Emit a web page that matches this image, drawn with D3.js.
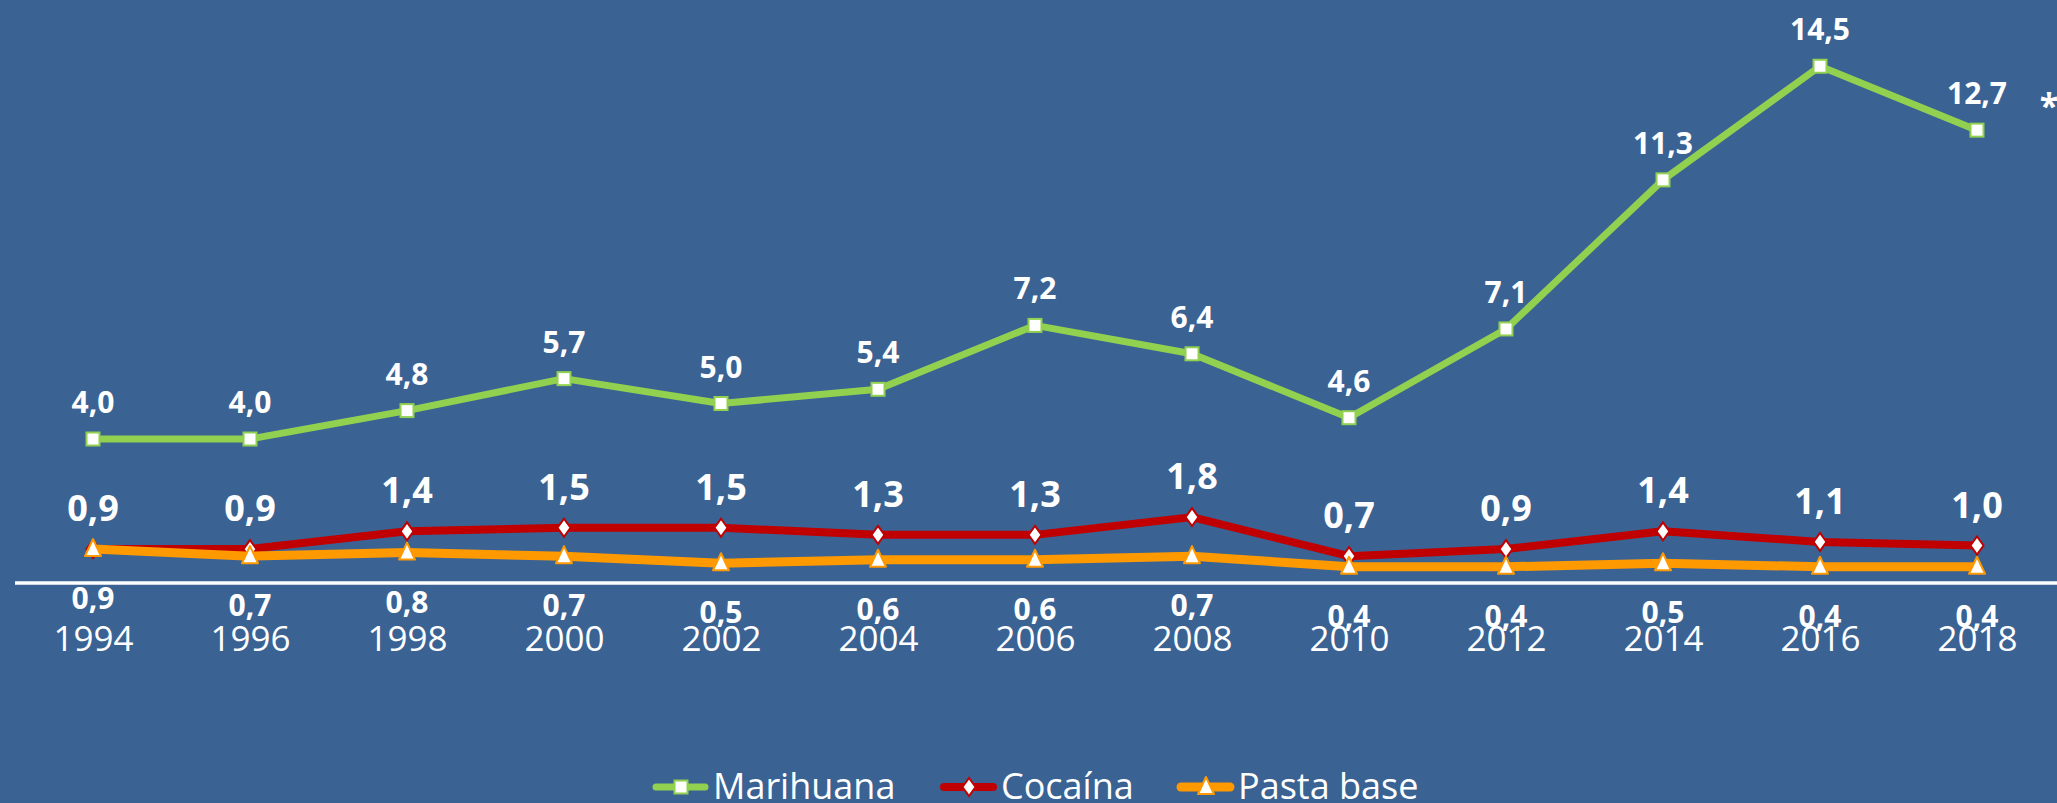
<!DOCTYPE html>
<html>
<head>
<meta charset="utf-8">
<script src="https://cdn.jsdelivr.net/npm/d3@7"></script>
<style>
  html, body { margin: 0; padding: 0; background: #3A6394; }
  svg { display: block; }
</style>
</head>
<body>
<svg id="chart" width="2057" height="803"></svg>
<script>
const years = ["1994","1996","1998","2000","2002","2004","2006","2008","2010","2012","2014","2016","2018"];
const marihuana = [4.0, 4.0, 4.8, 5.7, 5.0, 5.4, 7.2, 6.4, 4.6, 7.1, 11.3, 14.5, 12.7];
const cocaina   = [0.9, 0.9, 1.4, 1.5, 1.5, 1.3, 1.3, 1.8, 0.7, 0.9, 1.4, 1.1, 1.0];
const pastaBase = [0.9, 0.7, 0.8, 0.7, 0.5, 0.6, 0.6, 0.7, 0.4, 0.4, 0.5, 0.4, 0.4];
const seriesNames = ["Marihuana", "Cocaína", "Pasta base"];

const W = 2057, H = 803;
const svg = d3.select("#chart");
const font = "'Open Sans', 'Noto Sans', sans-serif";

const x = d3.scalePoint().domain(years).range([93, 1977]);
const y = d3.scaleLinear().domain([0, 14.5]).range([581, 581 - 14.5 * 35.5]);

const fmt = v => d3.format(".1f")(v).replace(".", ",");

const series = [
  { name: seriesNames[0], values: marihuana, color: "#92D050", width: 7, marker: "square", labelSize: 30, labelDy: -26 },
  { name: seriesNames[1], values: cocaina, color: "#C00000", width: 8, marker: "diamond", labelSize: 36, labelDy: -28 },
  { name: seriesNames[2], values: pastaBase, color: "#FF9900", width: 9, marker: "triangle", labelSize: 30, labelDy: 60 }
];

function drawMarker(g, type, cx, cy, color) {
  if (type === "square") {
    g.append("rect").attr("x", cx - 6.5).attr("y", cy - 6.5).attr("width", 13).attr("height", 13)
      .attr("fill", "#fff").attr("stroke", color).attr("stroke-width", 2);
  } else if (type === "diamond") {
    g.append("path").attr("d", `M${cx},${cy-9}L${cx+6.5},${cy}L${cx},${cy+9}L${cx-6.5},${cy}Z`)
      .attr("fill", "#fff").attr("stroke", color).attr("stroke-width", 2);
  } else {
    g.append("path").attr("d", `M${cx},${cy-10}L${cx+8},${cy+7}L${cx-8},${cy+7}Z`)
      .attr("fill", "#fff").attr("stroke", color).attr("stroke-width", 2).attr("stroke-linejoin", "round");
  }
}

// axis line (y = 0)
svg.append("line")
  .attr("x1", 15).attr("x2", W).attr("y1", y(0) + 2).attr("y2", y(0) + 2)
  .attr("stroke", "#fff").attr("stroke-width", 3.5);

// x axis year labels
const xAxis = d3.axisBottom(x).tickSize(0).tickPadding(0);
const gx = svg.append("g").attr("transform", `translate(0,${y(0)})`).call(xAxis);
gx.select(".domain").remove();
gx.selectAll("text")
  .attr("y", 0).attr("dy", 0)
  .attr("transform", "translate(0,70)")
  .attr("fill", "#fff")
  .style("font-family", font)
  .style("font-size", "35px");

const line = d3.line().x((d, i) => x(years[i])).y(d => y(d));

series.forEach(s => {
  const g = svg.append("g");
  g.append("path").datum(s.values)
    .attr("d", line)
    .attr("fill", "none")
    .attr("stroke", s.color)
    .attr("stroke-width", s.width)
    .attr("stroke-linejoin", "round");
  s.values.forEach((v, i) => drawMarker(g, s.marker, x(years[i]), y(v), s.color));
});

// data labels
series.forEach(s => {
  svg.append("g").selectAll("text").data(s.values).join("text")
    .attr("x", (d, i) => x(years[i]))
    .attr("y", d => y(d) + s.labelDy)
    .attr("text-anchor", "middle")
    .attr("fill", "#fff")
    .style("font-family", font)
    .style("font-weight", "bold")
    .style("font-size", s.labelSize + "px")
    .text(d => fmt(d));
});

// asterisk
svg.append("text").attr("x", 2049).attr("y", 118).attr("text-anchor", "middle")
  .attr("fill", "#fff").style("font-family", font).style("font-weight", "bold").style("font-size", "34px").text("*");

// legend
const legendX = [652, 940, 1177];
const legendY = 787;
series.forEach((s, i) => {
  const g = svg.append("g");
  const lx = legendX[i];
  g.append("line").attr("x1", lx + 4).attr("x2", lx + 53).attr("y1", legendY).attr("y2", legendY)
    .attr("stroke", s.color).attr("stroke-width", s.width).attr("stroke-linecap", "round");
  drawMarker(g, s.marker, lx + 29, legendY, s.color);
  g.append("text").attr("x", lx + 61).attr("y", 799)
    .attr("fill", "#fff").style("font-family", font).style("font-size", "36px").text(s.name);
});
</script>
</body>
</html>
